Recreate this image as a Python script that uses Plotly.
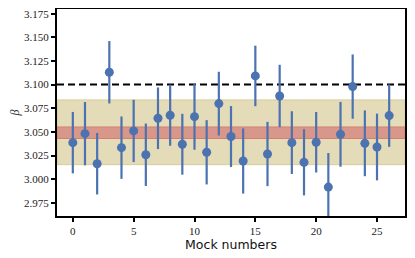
import plotly.graph_objects as go

mocks = list(range(27))
beta = [3.0386, 3.0481, 3.0163, 3.1131, 3.0333, 3.0510, 3.0258, 3.0644, 3.0676, 3.0369,
        3.0661, 3.0284, 3.0799, 3.0451, 3.0192, 3.1092, 3.0266, 3.0880, 3.0386, 3.0178,
        3.0390, 2.9916, 3.0474, 3.0979, 3.0379, 3.0340, 3.0672]
beta_err = [0.0325, 0.0335, 0.0325, 0.0330, 0.0330, 0.0330, 0.0330, 0.0326, 0.0323, 0.0322,
            0.0350, 0.0340, 0.0337, 0.0322, 0.0345, 0.0320, 0.0340, 0.0330, 0.0332, 0.0350,
            0.0320, 0.0360, 0.0343, 0.0340, 0.0348, 0.0353, 0.0330]
true_beta = 3.100
wide_band = (3.0153, 3.0838)
narrow_band = (3.0430, 3.0552)
yticks = [2.975, 3.000, 3.025, 3.050, 3.075, 3.100, 3.125, 3.150, 3.175]
xticks = [0, 5, 10, 15, 20, 25]

blue = "#4c72b0"

fig = go.Figure()
fig.add_hrect(y0=wide_band[0], y1=wide_band[1], fillcolor="#e4dcb9",
              line=dict(color="#d9cc98", width=1), layer="below")
fig.add_hrect(y0=narrow_band[0], y1=narrow_band[1], fillcolor="#d9968a",
              line=dict(color="#cf8272", width=1), layer="below")
fig.add_hline(y=true_beta, line=dict(color="black", width=2, dash="7px,4px"), layer="below")

fig.add_trace(go.Scatter(
    x=mocks, y=beta, mode="markers",
    marker=dict(color=blue, size=9, line=dict(width=0)),
    error_y=dict(type="data", array=beta_err, visible=True, color=blue, thickness=2.2, width=0),
    showlegend=False,
))

tickfont = dict(family="Liberation Serif", size=11, color="#222")
fig.update_layout(
    width=407, height=250,
    margin=dict(l=49, r=10, t=1, b=42, autoexpand=False),
    paper_bgcolor="white", plot_bgcolor="white",
    xaxis=dict(range=[-1.3, 27.3], tickvals=xticks, ticks="outside", ticklen=4,
               tickwidth=1.5, tickcolor="black", showgrid=False, zeroline=False,
               showline=True, linecolor="black", linewidth=2, mirror=True,
               tickfont=tickfont, automargin=False,
               title=dict(text="Mock numbers", font=dict(family="DejaVu Sans", size=12.5, color="#111"),
                          standoff=1)),
    yaxis=dict(range=[2.961, 3.180], tickvals=yticks, tickformat=".3f", ticks="outside",
               ticklen=4, tickwidth=1.5, tickcolor="black", showgrid=False, zeroline=False,
               showline=True, linecolor="black", linewidth=2, mirror=True,
               tickfont=tickfont, automargin=False, ticklabeloverflow="allow",
               title=dict(text="<i>β</i>", font=dict(family="Liberation Serif", size=12, color="#333"),
                          standoff=5)),
)
fig.write_html("out.html")
